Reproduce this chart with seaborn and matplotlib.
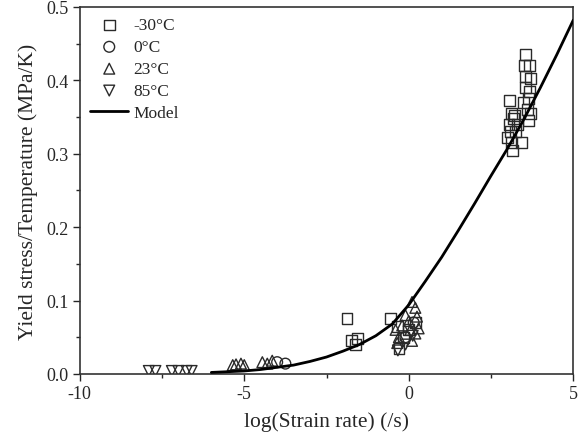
import numpy as np
import pandas as pd
import matplotlib
matplotlib.use("Agg")
import matplotlib.pyplot as plt
from matplotlib.ticker import MultipleLocator, FormatStrFormatter
import seaborn as sns

# -30°C
sq_x = [3.55, 3.52, 3.68, 3.55, 3.70, 3.55, 3.66, 3.48, 3.63, 3.60, 3.70, 3.63,
        3.07, 3.12, 3.18, 3.05, 3.22, 3.10, 3.00, 3.25, 3.12, 3.15, 3.43, 3.30,
        -1.88, -1.73, -1.55, -1.62, -0.55, -0.35, -0.30, 0.00, 0.20, -0.15]
sq_y = [0.435, 0.420, 0.420, 0.405, 0.402, 0.390, 0.385, 0.370, 0.375, 0.360, 0.355, 0.345,
        0.372, 0.355, 0.348, 0.340, 0.352, 0.330, 0.322, 0.330, 0.315, 0.304, 0.315, 0.340,
        0.076, 0.045, 0.048, 0.040, 0.075, 0.065, 0.035, 0.060, 0.070, 0.050]
# 0°C
ci_x = [-4.00, -3.75, -0.10, 0.15]
ci_y = [0.016, 0.014, 0.050, 0.070]
# 23°C
tu_x = [-5.35, -5.25, -5.10, -5.00, -4.45, -4.30, -4.15,
        0.10, 0.20, 0.25, 0.00, -0.20, -0.40, 0.05, -0.30, 0.20, 0.30, -0.35, 0.10, -0.10]
tu_y = [0.012, 0.013, 0.014, 0.012, 0.016, 0.014, 0.018,
        0.098, 0.090, 0.078, 0.072, 0.066, 0.060, 0.060, 0.050, 0.055, 0.062, 0.042, 0.045, 0.080]
# 85°C
td_x = [-7.90, -7.70, -7.20, -7.00, -6.75, -6.60, -0.33, 0.12, -0.10]
td_y = [0.004, 0.004, 0.004, 0.004, 0.004, 0.004, 0.032, 0.052, 0.040]

# Model curve
model_x = [-6.0, -5.5, -5.0, -4.5, -4.0, -3.5, -3.0, -2.5, -2.0, -1.5, -1.0, -0.5,
           0.0, 0.5, 1.0, 1.5, 2.0, 2.5, 3.0, 3.5, 4.0, 4.5, 5.0]
model_y = [0.002, 0.003, 0.004, 0.006, 0.009, 0.012, 0.017, 0.023, 0.031, 0.040, 0.052, 0.068,
           0.094, 0.126, 0.159, 0.195, 0.232, 0.270, 0.307, 0.347, 0.390, 0.435, 0.482]

sns.set_style("ticks")
plt.rcParams["font.family"] = ["Liberation Serif", "DejaVu Serif"]
plt.rcParams["axes.unicode_minus"] = False

fig = plt.figure(figsize=(5.82, 4.39), dpi=100)
ax = fig.add_axes([0.137, 0.146, 0.848, 0.836])

ec = "#2a2a2a"
series = [
    (sq_x, sq_y, "s", "-30°C"),
    (ci_x, ci_y, "o", "0°C"),
    (tu_x, tu_y, "^", "23°C"),
    (td_x, td_y, "v", "85°C"),
]
for xs, ys, m, lab in series:
    df = pd.DataFrame({"x": xs, "y": ys})
    sns.scatterplot(data=df, x="x", y="y", marker=m, s=60, facecolor="none",
                    edgecolor=ec, linewidth=1.0, label=lab, ax=ax, zorder=2)

mdf = pd.DataFrame({"x": model_x, "y": model_y})
sns.lineplot(data=mdf, x="x", y="y", color="black", linewidth=2, sort=False,
             estimator=None, label="Model", ax=ax, zorder=3)

ax.set_xlim(-10, 5)
ax.set_ylim(0, 0.5)
ax.xaxis.set_major_locator(MultipleLocator(5))
ax.xaxis.set_minor_locator(MultipleLocator(2.5))
ax.yaxis.set_major_locator(MultipleLocator(0.1))
ax.yaxis.set_minor_locator(MultipleLocator(0.05))
ax.yaxis.set_major_formatter(FormatStrFormatter("%.1f"))
ax.tick_params(which="major", direction="out", length=5, width=1, labelsize=13, pad=3)
ax.tick_params(which="minor", direction="out", length=3, width=1)
for sp in ax.spines.values():
    sp.set_linewidth(1.2)
    sp.set_color("#333333")

ax.set_xlabel("log(Strain rate) (/s)", fontsize=15.5, labelpad=7)
ax.set_ylabel("Yield stress/Temperature (MPa/K)", fontsize=15.5, labelpad=6)

ax.legend(loc="upper left", frameon=False, fontsize=12.5, handlelength=2.2,
          handletextpad=0.3, labelspacing=0.33, borderaxespad=0.2)

fig.savefig("out.png", dpi=100)
